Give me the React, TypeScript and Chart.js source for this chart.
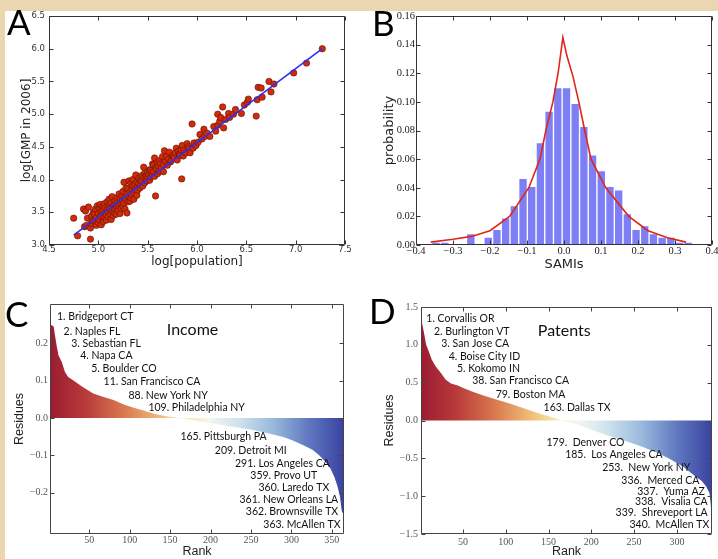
import React, { useEffect, useRef } from "react";
import { Chart, registerables } from "chart.js";

Chart.register(...registerables);

const MINUS = "\u2212";

// ---------------- Panel A : scaling of GMP with population ----------------
const popX = [
  4.75, 4.79, 4.85, 4.86, 4.87, 4.88, 4.89, 4.9, 4.92, 4.92, 4.93, 4.93, 4.94, 4.95, 4.96, 4.96, 4.97, 4.98, 4.98, 4.99,
  5.0, 5.0, 5.01, 5.01, 5.02, 5.02, 5.03, 5.03, 5.04, 5.04, 5.05, 5.05, 5.06, 5.06, 5.07, 5.07, 5.08, 5.08, 5.09, 5.09,
  5.1, 5.1, 5.11, 5.11, 5.12, 5.12, 5.13, 5.13, 5.14, 5.14, 5.15, 5.15, 5.16, 5.16, 5.17, 5.17, 5.18, 5.18, 5.19, 5.19,
  5.2, 5.2, 5.21, 5.21, 5.22, 5.22, 5.23, 5.23, 5.24, 5.24, 5.25, 5.25, 5.26, 5.26, 5.27, 5.27, 5.28, 5.28, 5.29, 5.29,
  5.3, 5.3, 5.31, 5.31, 5.32, 5.32, 5.33, 5.33, 5.34, 5.34, 5.35, 5.35, 5.36, 5.36, 5.37, 5.37, 5.38, 5.38, 5.39, 5.39,
  5.4, 5.4, 5.41, 5.41, 5.42, 5.43, 5.43, 5.44, 5.44, 5.45, 5.46, 5.46, 5.47, 5.47, 5.48, 5.49, 5.49, 5.5, 5.5, 5.51,
  5.52, 5.52, 5.53, 5.53, 5.54, 5.55, 5.55, 5.56, 5.56, 5.57, 5.57, 5.58, 5.58, 5.59, 5.6, 5.6, 5.61, 5.62, 5.62, 5.63,
  5.64, 5.65, 5.66, 5.66, 5.67, 5.68, 5.69, 5.7, 5.71, 5.72, 5.73, 5.74, 5.75, 5.76, 5.77, 5.78, 5.79, 5.8, 5.81, 5.82,
  5.83, 5.84, 5.845, 5.85, 5.86, 5.87, 5.89, 5.9, 5.91, 5.92, 5.93, 5.95, 5.96, 5.97, 5.99, 6.01, 6.03, 6.05, 6.07, 6.08,
  6.1, 6.13, 6.17, 6.19, 6.21, 6.21, 6.23, 6.24, 6.26, 6.27, 6.29, 6.32, 6.33, 6.37, 6.39, 6.45, 6.48, 6.51, 6.52, 6.6,
  6.61, 6.62, 6.65, 6.66, 6.73, 6.75, 6.78, 6.98, 7.11, 7.27,
];
const gmpY = [
  3.41, 3.14, 3.55, 3.28, 3.52, 3.3, 3.41, 3.58, 3.09, 3.26, 3.33, 3.44, 3.37, 3.5, 3.38, 3.47, 3.55, 3.3, 3.42, 3.6,
  3.34, 3.48, 3.39, 3.56, 3.44, 3.62, 3.31, 3.51, 3.46, 3.58, 3.36, 3.53, 3.42, 3.63, 3.49, 3.57, 3.38, 3.46, 3.55, 3.66,
  3.43, 3.51, 3.6, 3.7, 3.47, 3.56, 3.39, 3.64, 3.52, 3.74, 3.45, 3.58, 3.62, 3.5, 3.68, 3.55, 3.47, 3.61, 3.72, 3.57,
  3.52, 3.65, 3.78, 3.6, 3.48, 3.71, 3.63, 3.56, 3.75, 3.68, 3.59, 3.82, 3.64, 3.96, 3.73, 3.55, 3.69, 3.87, 3.49, 3.78,
  3.66, 3.86, 3.74, 3.98, 3.67, 3.81, 3.94, 3.72, 3.85, 3.77, 3.9, 4.0, 3.8, 3.7, 3.88, 3.93, 3.83, 4.07, 3.76, 3.96,
  3.89, 3.84, 3.94, 4.02, 3.87, 3.99, 3.92, 3.98, 4.06, 3.9, 4.03, 4.19, 3.95, 4.1, 4.05, 4.06, 3.98, 4.12, 4.03, 4.08,
  3.99, 4.15, 4.14, 4.04, 4.1, 4.24, 4.07, 4.22, 4.12, 4.33, 4.05, 3.75, 4.18, 4.16, 4.26, 4.09, 4.2, 4.29, 4.13, 4.24,
  4.18, 4.35, 4.23, 4.12, 4.44, 4.28, 4.35, 4.22, 4.31, 4.42, 4.27, 4.29, 4.36, 4.37, 4.33, 4.41, 4.48, 4.3, 4.43, 4.39,
  4.37, 4.46, 4.01, 4.52, 4.36, 4.45, 4.41, 4.55, 4.5, 4.47, 4.41, 4.85, 4.48, 4.56, 4.52, 4.57, 4.69, 4.62, 4.77, 4.66,
  4.71, 4.66, 4.81, 4.74, 4.83, 5.0, 4.89, 4.95, 5.11, 4.79, 4.92, 5.01, 4.95, 5.0, 5.07, 5.01, 5.14, 5.18, 5.23, 4.97,
  5.22, 5.41, 5.4, 5.26, 5.5, 5.34, 5.46, 5.63, 5.78, 6.0,
];
const fitX = [4.75, 7.27];
const fitY = [3.15, 6.0];
const aTicksX = [4.5, 5.0, 5.5, 6.0, 6.5, 7.0, 7.5];
const aTicksY = [3.0, 3.5, 4.0, 4.5, 5.0, 5.5, 6.0, 6.5];

// ---------------- Panel B : SAMI histogram ----------------
const binCenters = [
  -0.34575, -0.32225, -0.25175, -0.20475, -0.18125, -0.15775, -0.13425, -0.11075, -0.08725, -0.06375, -0.04025,
  -0.01675, 0.00675, 0.03025, 0.05375, 0.07725, 0.10075, 0.12425, 0.14775, 0.17125, 0.19475, 0.21825, 0.24175,
  0.26525, 0.28875, 0.31225, 0.33575,
];
const binProb = [
  0.002, 0.002, 0.008, 0.0055, 0.011, 0.019, 0.0275, 0.0465, 0.041, 0.0715, 0.0935, 0.11, 0.11, 0.099, 0.083, 0.063,
  0.052, 0.041, 0.0385, 0.022, 0.011, 0.0135, 0.008, 0.0055, 0.0055, 0.002, 0.002,
];
const fitCurveX = [
  -0.36, -0.3, -0.25, -0.2, -0.147, -0.095, -0.065, -0.049, -0.03, -0.016, -0.003, 0.008, 0.024, 0.04, 0.056, 0.073,
  0.113, 0.175, 0.227, 0.28, 0.33,
];
const fitCurveY = [
  0.002, 0.004, 0.006, 0.01, 0.02, 0.04, 0.06, 0.08, 0.1, 0.12, 0.145, 0.132, 0.118, 0.1, 0.08, 0.06, 0.04, 0.02, 0.01,
  0.005, 0.002,
];
const bTicksX = [-0.4, -0.3, -0.2, -0.1, 0.0, 0.1, 0.2, 0.3, 0.4];
const bTicksY = [0.0, 0.02, 0.04, 0.06, 0.08, 0.1, 0.12, 0.14, 0.16];

// ---------------- Panel C : income residues by rank ----------------
const incomeRank = [
  1.5, 2, 6, 8, 10, 12, 16, 20, 24, 30, 42, 55, 67, 80, 92, 104, 117, 129, 145, 158, 170, 186, 207, 227, 248, 268, 289,
  301, 314, 326, 334, 342, 348, 353, 357, 360, 362, 363, 365,
];
const incomeResid = [
  0.29, 0.25, 0.245, 0.217, 0.19, 0.168, 0.15, 0.123, 0.11, 0.101, 0.083, 0.066, 0.057, 0.048, 0.037, 0.028, 0.02,
  0.012, 0.005, 0.001, -0.002, -0.009, -0.016, -0.023, -0.03, -0.039, -0.05, -0.059, -0.072, -0.085, -0.099, -0.117,
  -0.134, -0.157, -0.183, -0.21, -0.245, -0.253, -0.253,
];
const incomeTop = ["1. Bridgeport CT", "2. Naples FL", "3. Sebastian FL", "4. Napa CA", "5. Boulder CO",
  "11. San Francisco CA", "88. New York NY", "109. Philadelphia NY"];
const incomeBottom = ["165. Pittsburgh PA", "209. Detroit MI", "291. Los Angeles CA", "359. Provo UT",
  "360. Laredo TX", "361. New Orleans LA", "362. Brownsville TX", "363. McAllen TX"];
const cTicksX = [50, 100, 150, 200, 250, 300, 350];
const cTicksY = [-0.2, -0.1, 0.0, 0.1, 0.2];

// ---------------- Panel D : patent residues by rank ----------------
const patentRank = [
  1, 2.2, 4.5, 7, 10, 13.5, 18, 24, 30, 36, 44, 51, 63, 74, 86, 97, 109, 121, 132, 144, 156, 166, 180, 199, 219, 238,
  258, 277, 293, 309, 321, 329, 334, 338, 339.5, 340.5, 341,
];
const patentResid = [
  1.44, 1.29, 1.16, 1.0, 0.915, 0.806, 0.717, 0.63, 0.54, 0.489, 0.462, 0.427, 0.374, 0.33, 0.287, 0.25, 0.207, 0.163,
  0.119, 0.075, 0.035, 0.0, -0.04, -0.12, -0.198, -0.264, -0.34, -0.427, -0.515, -0.625, -0.735, -0.8, -0.87, -0.955,
  -1.1, -1.3, -1.33,
];
const patentTop = ["1. Corvallis OR", "2. Burlington VT", "3. San Jose CA", "4. Boise City ID", "5. Kokomo IN",
  "38. San Francisco CA", "79. Boston MA", "163. Dallas TX"];
const patentBottom = ["179.  Denver CO", "185.  Los Angeles CA", "253.  New York NY", "336.  Merced CA",
  "337.  Yuma AZ", "338.  Visalia CA", "339.  Shreveport LA", "340.  McAllen TX"];
const dTicksX = [50, 100, 150, 200, 250, 300];
const dTicksY = [-1.5, -1.0, -0.5, 0.0, 0.5, 1.0, 1.5];

// ---------------- layout (anchor positions of annotations, in data units) ----------------
const incomeTopPos = [[10.1, 0.272], [18.3, 0.23], [27.8, 0.199], [38.9, 0.166], [52.5, 0.1325], [67.7, 0.097], [98.5, 0.061], [123.2, 0.0285]];
const incomeBottomPos = [[269.4, -0.05], [294.1, -0.087], [347.5, -0.121], [331.9, -0.155], [346.7, -0.186], [357.8, -0.219], [357.8, -0.251], [360.7, -0.285]];
const incomeTitlePos = [145.9, 0.237];
const patentTopPos = [[7.2, 1.343], [16.2, 1.18], [24.7, 1.013], [33.3, 0.849], [43.0, 0.687], [60.9, 0.528], [88.2, 0.343], [144.2, 0.168]];
const patentBottomPos = [[238.7, -0.295], [283.4, -0.449], [315.7, -0.617], [326.2, -0.793], [332.7, -0.934], [335.9, -1.066], [335.9, -1.219], [337.9, -1.374]];
const patentTitlePos = [137.5, 1.18];

const NOTE_FONT = "10.5px Lato";
const TITLE_FONT = "16px Lato";
const GRADIENT = [
  [0.0, "#9b1c31"], [0.12, "#b83a3a"], [0.25, "#d9774f"], [0.38, "#efc07a"], [0.47, "#faeab0"], [0.54, "#f4f6ee"],
  [0.64, "#cfe3ef"], [0.76, "#98b8dc"], [0.88, "#5f78c0"], [1.0, "#3a429f"],
] as [number, string][];

type Note = { text: string; x: number; y: number; align: CanvasTextAlign; font: string };

function notesPlugin(notes: Note[], color: string) {
  return {
    id: "notes",
    afterDatasetsDraw(chart: any) {
      const { ctx, scales } = chart;
      ctx.save();
      ctx.fillStyle = color;
      ctx.textBaseline = "middle";
      for (const n of notes) {
        ctx.font = n.font;
        ctx.textAlign = n.align;
        ctx.fillText(n.text, scales.x.getPixelForValue(n.x), scales.y.getPixelForValue(n.y));
      }
      ctx.restore();
    },
  };
}

function framePlugin(color: string, tickLen: number) {
  return {
    id: "frame",
    afterDatasetsDraw(chart: any) {
      const { ctx, chartArea: a, scales } = chart;
      const L = Math.round(a.left) + 0.5;
      const R = Math.round(a.right) - 0.5;
      const T = Math.round(a.top) + 0.5;
      const B = Math.round(a.bottom) - 0.5;
      ctx.save();
      ctx.strokeStyle = color;
      ctx.lineWidth = 1;
      ctx.beginPath();
      ctx.rect(L, T, R - L, B - T);
      for (const t of scales.x.ticks) {
        const p = Math.round(scales.x.getPixelForValue(t.value)) + 0.5;
        ctx.moveTo(p, B);
        ctx.lineTo(p, B - tickLen);
        ctx.moveTo(p, T);
        ctx.lineTo(p, T + tickLen);
      }
      for (const t of scales.y.ticks) {
        const p = Math.round(scales.y.getPixelForValue(t.value)) + 0.5;
        ctx.moveTo(L, p);
        ctx.lineTo(L + tickLen, p);
        ctx.moveTo(R, p);
        ctx.lineTo(R - tickLen, p);
      }
      ctx.stroke();
      ctx.restore();
    },
  };
}

type AxisOpts = {
  min: number; max: number; ticks: number[]; fmt: (v: number) => string;
  tickFont: any; tickColor: string; tickPad: number;
  title: string; titleFont: any; titleColor: string; titlePad: number; size: number;
};

function xAxis(o: AxisOpts) {
  return {
    type: "linear", min: o.min, max: o.max, offset: false,
    grid: { display: false, drawTicks: false }, border: { display: false },
    ticks: { font: o.tickFont, color: o.tickColor, padding: o.tickPad, maxRotation: 0, minRotation: 0, autoSkip: false,
      callback: (v: any) => o.fmt(Number(v)) },
    title: { display: true, text: o.title, font: o.titleFont, color: o.titleColor, padding: { top: 0, bottom: o.titlePad } },
    afterBuildTicks: (s: any) => { s.ticks = o.ticks.map((v) => ({ value: v })); },
    afterFit: (s: any) => { s.height = o.size; s.paddingLeft = 0; s.paddingRight = 0; },
  };
}

function yAxis(o: AxisOpts) {
  return {
    type: "linear", min: o.min, max: o.max,
    grid: { display: false, drawTicks: false }, border: { display: false },
    ticks: { font: o.tickFont, color: o.tickColor, padding: o.tickPad, autoSkip: false,
      callback: (v: any) => o.fmt(Number(v)) },
    title: { display: true, text: o.title, font: o.titleFont, color: o.titleColor, padding: { top: o.titlePad, bottom: 0 } },
    afterBuildTicks: (s: any) => { s.ticks = o.ticks.map((v) => ({ value: v })); },
    afterFit: (s: any) => { s.width = o.size; s.paddingTop = 0; s.paddingBottom = 0; },
  };
}

const fmt = (d: number) => (v: number) => {
  const s = Math.abs(v).toFixed(d);
  return v < -1e-9 ? MINUS + s : s;
};

const baseOptions = (padding: any) => ({
  animation: false,
  responsive: false,
  events: [],
  layout: { padding },
  plugins: { legend: { display: false }, tooltip: { enabled: false } },
});

function gradientFill(first: number, last: number) {
  return (c: any) => {
    const chart = c.chart;
    if (!chart.chartArea) return "rgba(0,0,0,0)";
    const x0 = chart.scales.x.getPixelForValue(first);
    const x1 = chart.scales.x.getPixelForValue(last);
    const g = chart.ctx.createLinearGradient(x0, 0, x1, 0);
    for (const [p, col] of GRADIENT) g.addColorStop(p, col);
    return g;
  };
}

function buildNotes(top: string[], topPos: number[][], bottom: string[], bottomPos: number[][], title: string, titlePos: number[]): Note[] {
  const notes: Note[] = [];
  top.forEach((t, i) => notes.push({ text: t, x: topPos[i][0], y: topPos[i][1], align: "left", font: NOTE_FONT }));
  bottom.forEach((t, i) => notes.push({ text: t, x: bottomPos[i][0], y: bottomPos[i][1], align: "right", font: NOTE_FONT }));
  notes.push({ text: title, x: titlePos[0], y: titlePos[1], align: "left", font: TITLE_FONT });
  return notes;
}

function configA(): any {
  const sansTick = { family: "DejaVu Sans", size: 8.5 };
  const sansTitle = { family: "DejaVu Sans", size: 12 };
  return {
    type: "scatter",
    data: {
      datasets: [
        { type: "line", data: fitX.map((x, i) => ({ x, y: fitY[i] })), borderColor: "#2f2ff2", borderWidth: 1.6,
          pointRadius: 0, fill: false, order: 0 },
        { type: "scatter", data: popX.map((x, i) => ({ x, y: gmpY[i] })), backgroundColor: "#d22a0a",
          borderColor: "#5c1405", borderWidth: 0.6, pointRadius: 3.2, order: 1 },
      ],
    },
    options: {
      ...baseOptions({ left: 0, top: 5, right: 14, bottom: 0 }),
      scales: {
        x: xAxis({ min: 4.5, max: 7.5, ticks: aTicksX, fmt: fmt(1), tickFont: sansTick, tickColor: "#333", tickPad: 0,
          title: "log[population]", titleFont: sansTitle, titleColor: "#222", titlePad: 10.8, size: 35 }),
        y: yAxis({ min: 3.0, max: 6.5, ticks: aTicksY, fmt: fmt(1), tickFont: sansTick, tickColor: "#333", tickPad: 4,
          title: "log[GMP in 2006]", titleFont: sansTitle, titleColor: "#222", titlePad: 14.8, size: 44 }),
      },
    },
    plugins: [framePlugin("#333", 4)],
  };
}

function configB(): any {
  const serifTick = { family: "Liberation Serif", size: 10.5 };
  const sansTitle = { family: "DejaVu Sans", size: 13 };
  return {
    type: "bar",
    data: {
      datasets: [
        { type: "line", data: fitCurveX.map((x, i) => ({ x, y: fitCurveY[i] })), borderColor: "#e0261b",
          borderWidth: 1.6, pointRadius: 0, tension: 0, fill: false, order: 0 },
        { type: "bar", data: binCenters.map((x, i) => ({ x, y: binProb[i] })), backgroundColor: "#7f7ff5",
          borderColor: "#ffffff", borderWidth: 1, barPercentage: 1, categoryPercentage: 1, order: 1 },
      ],
    },
    options: {
      ...baseOptions({ left: 0, top: 5, right: 6, bottom: 0 }),
      scales: {
        x: xAxis({ min: -0.4, max: 0.4, ticks: bTicksX, fmt: fmt(1), tickFont: serifTick, tickColor: "#222", tickPad: 0,
          title: "SAMIs", titleFont: sansTitle, titleColor: "#222", titlePad: 7.2, size: 35 }),
        y: yAxis({ min: 0, max: 0.16, ticks: bTicksY, fmt: fmt(2), tickFont: serifTick, tickColor: "#222", tickPad: 1,
          title: "probability", titleFont: sansTitle, titleColor: "#222", titlePad: 22.9, size: 57 }),
      },
    },
    plugins: [framePlugin("#333", 4)],
  };
}

function configRank(rank: number[], resid: number[], xr: [number, number], yr: [number, number], tx: number[], ty: number[],
  yPad: number, yTitlePad: number, ySize: number, xPad: number, padding: any, notes: Note[]): any {
  const serifTick = { family: "Liberation Serif", size: 10 };
  const sansTitle = { family: "Liberation Sans", size: 12.5 };
  return {
    type: "line",
    data: {
      datasets: [
        { data: rank.map((x, i) => ({ x, y: resid[i] })), fill: "origin", borderWidth: 0, borderColor: "rgba(0,0,0,0)",
          pointRadius: 0, tension: 0, backgroundColor: gradientFill(rank[0], rank[rank.length - 1]) },
      ],
    },
    options: {
      ...baseOptions(padding),
      scales: {
        x: xAxis({ min: xr[0], max: xr[1], ticks: tx, fmt: (v) => String(v), tickFont: serifTick, tickColor: "#555",
          tickPad: xPad, title: "Rank", titleFont: sansTitle, titleColor: "#222", titlePad: 0, size: 25 }),
        y: yAxis({ min: yr[0], max: yr[1], ticks: ty, fmt: fmt(1), tickFont: serifTick, tickColor: "#555", tickPad: yPad,
          title: "Residues", titleFont: sansTitle, titleColor: "#222", titlePad: yTitlePad, size: ySize }),
      },
    },
    plugins: [framePlugin("#444", 4), notesPlugin(notes, "#111")],
  };
}

const letterStyle = (left: number, top: number): React.CSSProperties => ({
  position: "absolute", left, top, fontFamily: "Lato", fontSize: 35, lineHeight: "35px", color: "#000",
});

export default function App() {
  const refA = useRef<HTMLCanvasElement>(null);
  const refB = useRef<HTMLCanvasElement>(null);
  const refC = useRef<HTMLCanvasElement>(null);
  const refD = useRef<HTMLCanvasElement>(null);

  useEffect(() => {
    const charts: Chart[] = [];
    charts.push(new Chart(refA.current as HTMLCanvasElement, configA()));
    charts.push(new Chart(refB.current as HTMLCanvasElement, configB()));
    charts.push(new Chart(refC.current as HTMLCanvasElement, configRank(incomeRank, incomeResid, [1.5, 365], [-0.31, 0.305],
      cTicksX, cTicksY, 2, 7.5, 45, 0, { left: 0, top: 24, right: 15, bottom: 0 },
      buildNotes(incomeTop, incomeTopPos, incomeBottom, incomeBottomPos, "Income", incomeTitlePos))));
    charts.push(new Chart(refD.current as HTMLCanvasElement, configRank(patentRank, patentResid, [1, 341], [-1.5, 1.5],
      dTicksX, dTicksY, 3, 23.2, 62, 2, { left: 0, top: 27, right: 6, bottom: 0 },
      buildNotes(patentTop, patentTopPos, patentBottom, patentBottomPos, "Patents", patentTitlePos))));
    return () => charts.forEach((c) => c.destroy());
  }, []);

  const box = (left: number, top: number, w: number, h: number, ref: any) => (
    <div style={{ position: "absolute", left, top, width: w, height: h }}>
      <canvas ref={ref} width={w} height={h} style={{ display: "block", width: w, height: h }} />
    </div>
  );

  return (
    <div style={{ position: "absolute", left: 0, top: 0, width: 718, height: 559, overflow: "hidden", background: "#ead6b0" }}>
      <div style={{ position: "absolute", left: 5, top: 11, width: 713, height: 548, background: "#ffffff" }} />
      {box(5, 11, 354, 269, refA)}
      {box(359, 11, 359, 269, refB)}
      {box(5, 280, 354, 279, refC)}
      {box(359, 280, 359, 279, refD)}
      <div style={letterStyle(7, 4)}>A</div>
      <div style={letterStyle(372, 5)}>B</div>
      <div style={letterStyle(5, 296)}>C</div>
      <div style={letterStyle(369, 293)}>D</div>
    </div>
  );
}
